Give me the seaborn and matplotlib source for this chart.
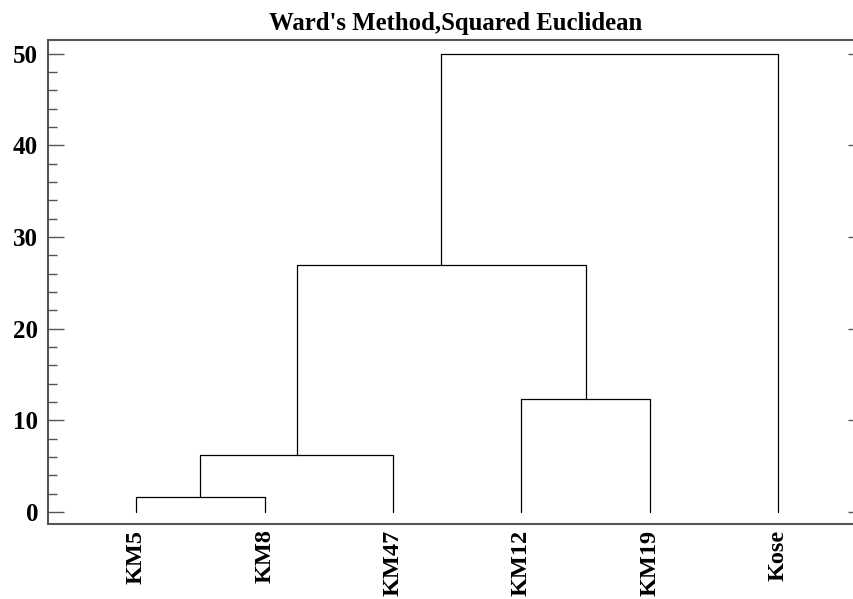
import numpy as np
import pandas as pd
import matplotlib
matplotlib.use("Agg")
import matplotlib.pyplot as plt
import seaborn as sns
from matplotlib.ticker import MultipleLocator

# leaves in display order
leaves = ["KM5", "KM8", "KM47", "KM12", "KM19", "Kose"]
# merges: (left member, right member, distance); members >= 6 refer to earlier merges
merge_left = [0, 6, 3, 7, 9]
merge_right = [1, 2, 4, 8, 5]
merge_height = [1.6, 6.2, 12.3, 27.0, 50.0]

sns.set_style("white")
plt.rcParams["font.family"] = ["Liberation Serif", "DejaVu Serif"]
plt.rcParams["font.weight"] = "bold"
plt.rcParams["text.color"] = "black"

# build dendrogram segments
xpos = {i: float(i) for i in range(len(leaves))}
ypos = {i: 0.0 for i in range(len(leaves))}
rows = []
for k, (a, b, h) in enumerate(zip(merge_left, merge_right, merge_height)):
    node = len(leaves) + k
    xs = [xpos[a], xpos[a], xpos[b], xpos[b]]
    ys = [ypos[a], h, h, ypos[b]]
    for j, (x, y) in enumerate(zip(xs, ys)):
        rows.append({"link": k, "order": j, "x": x, "y": y})
    xpos[node] = (xpos[a] + xpos[b]) / 2
    ypos[node] = h
segs = pd.DataFrame(rows)

fig = plt.figure(figsize=(8.54, 5.99), dpi=100)
ax = fig.add_axes([0.0559, 0.1252, 0.956, 0.808])

sns.lineplot(data=segs, x="x", y="y", units="link", estimator=None, sort=False,
             color="black", linewidth=0.9, ax=ax, legend=False)

ax.set_xlim(-0.69, 5.67)
ax.set_ylim(-1.3, 51.5)
ax.set_xticks(range(len(leaves)))
ax.set_xticklabels(leaves, rotation=90, fontsize=17.5, fontweight="bold")
ax.yaxis.set_major_locator(MultipleLocator(10))
ax.yaxis.set_minor_locator(MultipleLocator(2))
for lab in ax.get_yticklabels():
    lab.set_fontsize(18)
    lab.set_fontweight("bold")
ax.tick_params(axis="y", which="major", direction="in", length=11.2, width=1.0,
               color="#555555", labelcolor="black", left=True, right=True, pad=7)
ax.tick_params(axis="y", which="minor", direction="in", length=6.5, width=1.0,
               color="#555555", left=True, right=True)
ax.tick_params(axis="x", length=0, pad=4, labelcolor="black")
ax.set_xlabel("")
ax.set_ylabel("")
for sp in ax.spines.values():
    sp.set_color("#555555")
    sp.set_linewidth(1.5)

ax.set_title("Ward's Method,Squared Euclidean", fontsize=17.8, fontweight="bold",
             pad=7, color="black")

fig.savefig("out.png", dpi=100)
